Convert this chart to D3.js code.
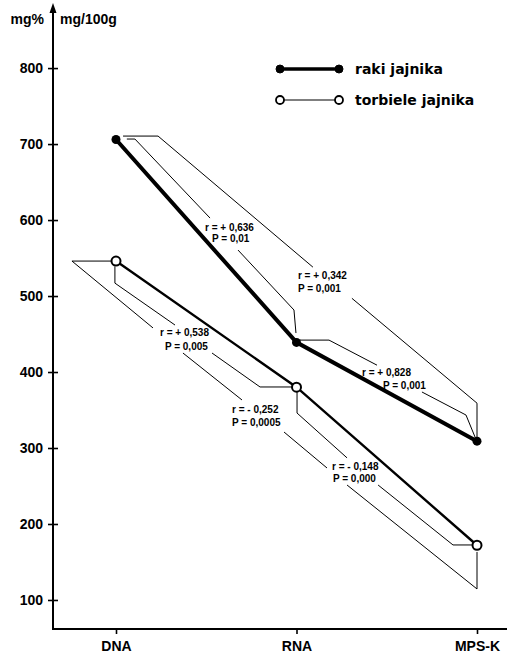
<!DOCTYPE html>
<html><head><meta charset="utf-8">
<script src="https://cdn.jsdelivr.net/npm/d3@7/dist/d3.min.js"></script>
<style>
html,body{margin:0;padding:0;background:#fff;}
svg{display:block;}
</style></head>
<body><svg id="c" width="513" height="654"></svg>
<script>
// ---- data ----
const categories = ["DNA", "RNA", "MPS-K"];
const rakiValues = [706, 439, 309];
const torbieleValues = [546, 380, 172];
const yTicks = [100, 200, 300, 400, 500, 600, 700, 800];
const seriesNames = ["raki jajnika", "torbiele jajnika"];

// correlation brackets: segments of [category index, value]
const bracketRakiDnaMps = [[[0.039,710.5],[0.233,710.5],[1.091,538]], [[1.307,497],[2,359],[2,314.5]]];
const bracketRakiDnaRna = [[[0.06,706.6],[0.105,706.6],[0.521,602.6]], [[0.676,560.5],[0.986,481.6],[0.997,451.3]]];
const bracketRakiRnaMps = [[[1.019,442],[1.18,442],[1.446,409]], [[1.695,373.7],[1.939,343.4],[1.989,314.5]]];
const bracketTorbDnaMps = [[[-0.006,546],[-0.244,546],[0.205,458]], [[0.371,425],[0.698,363.2]], [[0.931,321],[1.169,273.7]], [[1.28,251.3],[2,114.5],[2,163.2]]];
const bracketTorbDnaRna = [[[-0.006,539],[-0.006,517],[0.327,461.8]], [[0.532,425],[0.798,380.3],[0.975,380.3]]];
const bracketTorbRnaMps = [[[1.003,373.7],[1.003,346],[1.28,287]], [[1.452,251.3],[1.867,172.4],[1.972,172.4]]];

// annotation texts with anchors [category index, value]
const corrLabels = [
  {t:"r = + 0,636", p:[0.493,590.8]}, {t:"P = 0,01", p:[0.532,576.3]},
  {t:"r = + 0,342", p:[1.008,527.6]}, {t:"P = 0,001", p:[1.008,510.5]},
  {t:"r = + 0,828", p:[1.363,400]},   {t:"P = 0,001", p:[1.479,382.9]},
  {t:"r = + 0,538", p:[0.244,452.6]}, {t:"P = 0,005", p:[0.271,434.2]},
  {t:"r = - 0,252", p:[0.643,351.3]}, {t:"P = 0,0005", p:[0.643,334.2]},
  {t:"r = - 0,148", p:[1.197,276.3]}, {t:"P = 0,000", p:[1.202,260.5]}
];

// ---- drawing ----
const svg = d3.select("#c");
const x = d3.scaleLinear().domain([0, 2]).range([116, 477]);
const y = d3.scaleLinear().domain([61.8, 883]).range([629, 5]);
const axX = 53;
const FONT = "'Liberation Sans', Arial, sans-serif";

// y axis
const yAxis = svg.append("g").attr("transform", `translate(${axX},0)`)
  .call(d3.axisLeft(y).tickValues(yTicks).tickSize(5).tickPadding(5).tickFormat(d3.format("d")));
yAxis.select(".domain").remove();
yAxis.selectAll(".tick line").attr("x1", -5).attr("x2", 5).attr("stroke", "#000").attr("stroke-width", 1.6);
yAxis.selectAll(".tick text").attr("font-family", FONT).attr("font-size", 14).attr("font-weight", "bold").attr("fill", "#000").attr("x", -10);
svg.append("line").attr("x1", axX).attr("x2", axX).attr("y1", y(61.8)).attr("y2", 10)
  .attr("stroke", "#000").attr("stroke-width", 2);
svg.append("path").attr("d", `M${axX},3 L${axX-3.5},13 L${axX+3.5},13 Z`).attr("fill", "#000");

// x axis
const xAxis = svg.append("g").attr("transform", `translate(0,${y(61.8)})`)
  .call(d3.axisBottom(x).tickValues([0, 1, 2]).tickSize(5).tickPadding(7).tickFormat(i => categories[i]));
xAxis.select(".domain").remove();
xAxis.selectAll(".tick line").attr("stroke", "#000").attr("stroke-width", 1.6);
xAxis.selectAll(".tick text").attr("font-family", FONT).attr("font-size", 14).attr("font-weight", "bold").attr("fill", "#000");
svg.append("line").attr("x1", axX - 1).attr("x2", 507).attr("y1", y(61.8)).attr("y2", y(61.8))
  .attr("stroke", "#000").attr("stroke-width", 2);

// unit labels
svg.append("text").attr("x", 44).attr("y", 24).attr("text-anchor", "end")
  .attr("font-family", FONT).attr("font-size", 14).attr("font-weight", "bold").text("mg%");
svg.append("text").attr("x", 60).attr("y", 24)
  .attr("font-family", FONT).attr("font-size", 14).attr("font-weight", "bold").text("mg/100g");

// brackets
const line = d3.line().x(d => x(d[0])).y(d => y(d[1]));
const brackets = [bracketRakiDnaMps, bracketRakiDnaRna, bracketRakiRnaMps, bracketTorbDnaMps, bracketTorbDnaRna, bracketTorbRnaMps];
brackets.forEach(b => b.forEach(seg => {
  svg.append("path").attr("d", line(seg)).attr("fill", "none").attr("stroke", "#000").attr("stroke-width", 1);
}));

// correlation labels
corrLabels.forEach(l => {
  svg.append("text").attr("x", x(l.p[0])).attr("y", y(l.p[1])).attr("dy", "0.35em")
    .attr("font-family", FONT).attr("font-size", 10).attr("font-weight", "bold").text(l.t);
});

// series lines
const sline = d3.line().x((d, i) => x(i)).y(d => y(d));
svg.append("path").attr("d", sline(torbieleValues)).attr("fill", "none").attr("stroke", "#000").attr("stroke-width", 2.4);
svg.append("path").attr("d", sline(rakiValues)).attr("fill", "none").attr("stroke", "#000").attr("stroke-width", 4);
svg.selectAll(".pr").data(rakiValues).enter().append("circle")
  .attr("cx", (d, i) => x(i)).attr("cy", d => y(d)).attr("r", 4.5).attr("fill", "#000");
svg.selectAll(".pt").data(torbieleValues).enter().append("circle")
  .attr("cx", (d, i) => x(i)).attr("cy", d => y(d)).attr("r", 4.5).attr("fill", "#fff").attr("stroke", "#000").attr("stroke-width", 2);

// legend
const lg = [{y: 69, w: 3.5, filled: true}, {y: 100, w: 1.2, filled: false}];
lg.forEach((g, i) => {
  svg.append("line").attr("x1", 280).attr("x2", 339).attr("y1", g.y).attr("y2", g.y)
    .attr("stroke", "#000").attr("stroke-width", g.w);
  [280, 339].forEach(cx => svg.append("circle").attr("cx", cx).attr("cy", g.y).attr("r", 4)
    .attr("fill", g.filled ? "#000" : "#fff").attr("stroke", "#000").attr("stroke-width", g.filled ? 1 : 1.8));
  svg.append("text").attr("x", 355).attr("y", g.y).attr("dy", "0.35em")
    .attr("font-family", "'DejaVu Sans', sans-serif").attr("font-size", 14).attr("font-weight", "bold")
    .text(seriesNames[i]);
});
</script></body></html>
